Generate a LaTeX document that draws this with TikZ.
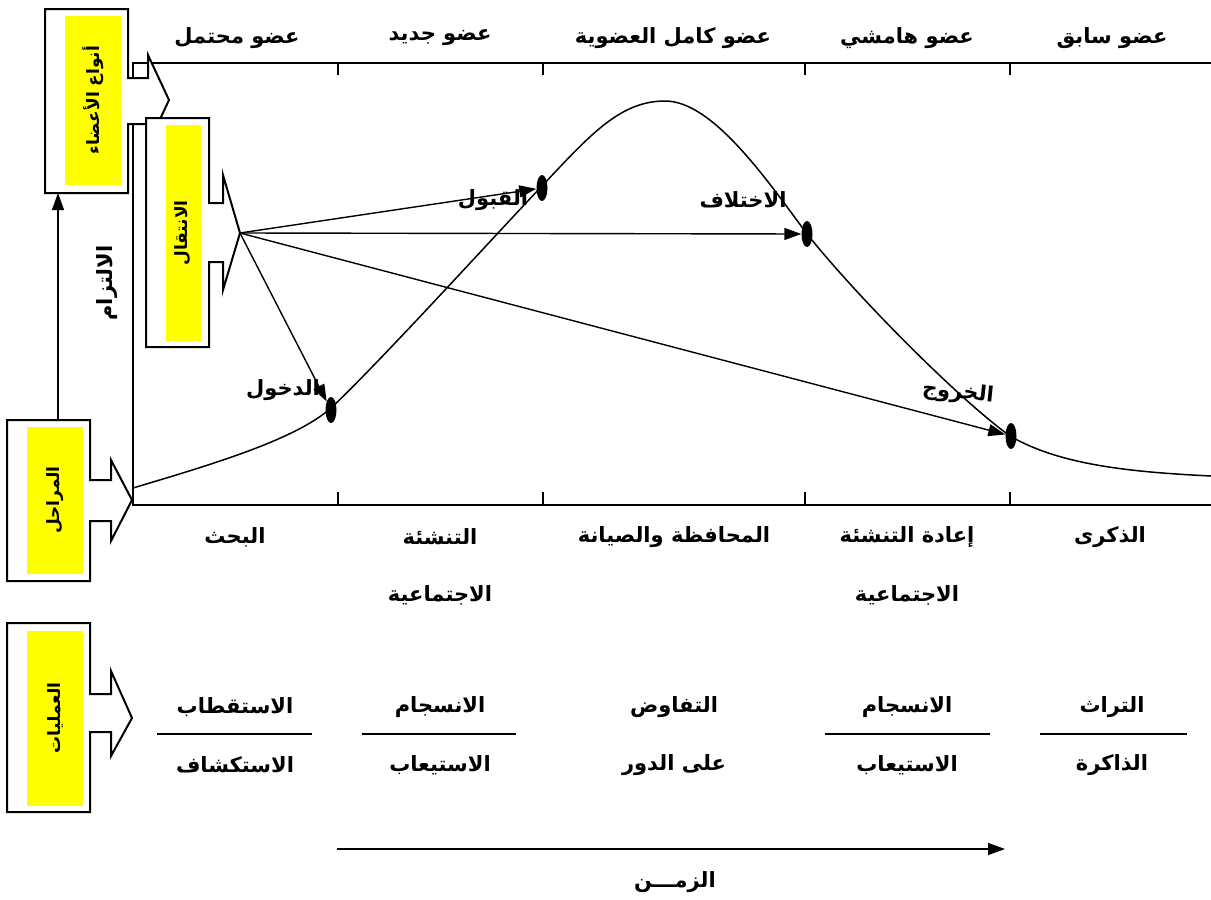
\documentclass[tikz,border=0pt]{standalone}
\usepackage{fontspec}
\newfontfamily\arabicfont[Script=Arabic]{DejaVu Sans}
\TeXXeTstate=1
\usetikzlibrary{arrows.meta,shapes.geometric}
\definecolor{pureyellow}{RGB}{255,255,0}
\tikzset{
  lbl/.style={font=\arabicfont\bfseries\fontsize{21}{24}\selectfont, inner sep=0pt},
  boxlbl/.style={font=\arabicfont\bfseries\fontsize{17}{20}\selectfont, inner sep=0pt, rotate=90},
  frame/.style={line width=1.5pt},
  boxshape/.style={draw=black, fill=white, line width=2pt, line join=miter},
  yel/.style={fill=pureyellow, draw=none},
  arr/.style={line width=1.4pt, -{Triangle[length=17pt,width=12pt]}},
  curveline/.style={line width=1.5pt},
  dot/.style={ellipse, fill=black, draw=none, minimum width=11pt, minimum height=26pt, inner sep=0pt},
  sep/.style={line width=1.5pt}
}
\begin{document}
\begin{tikzpicture}[x=1pt,y=-1pt]
\useasboundingbox (0,0) rectangle (1211,900);
% main frame
\draw[frame] (1211,63) -- (133,63) -- (133,505) -- (1211,505);
\foreach \xx in {338,543,805,1010}{
  \draw[frame] (\xx,63) -- (\xx,75);
  \draw[frame] (\xx,492) -- (\xx,505);
}
% curve
\draw[curveline] (133,488) .. controls (210,465) and (295,440) .. (331,408)
  .. controls (380,362) and (500,230) .. (542,186)
  .. controls (590,135) and (620,101) .. (665,101)
  .. controls (712,101) and (765,177) .. (807,234)
  .. controls (860,300) and (960,400) .. (1010,436)
  .. controls (1060,465) and (1130,472) .. (1211,476);
% box 1: member types
\draw[boxshape] (45,9) -- (128,9) -- (128,78) -- (148,78) -- (148,55) -- (169,100) -- (148,145) -- (148,124) -- (128,124) -- (128,193) -- (45,193) -- cycle;
\fill[yel] (65,16) rectangle (121,185);
\node[boxlbl] (t1) at (93,100) {\beginR أنواع الأعضاء\endR};
\coordinate (b1bot) at (58,193);
% box 2: transition
\draw[boxshape] (146,118) -- (209,118) -- (209,203) -- (223,203) -- (223,175) -- (240,233) -- (223,290) -- (223,262) -- (209,262) -- (209,347) -- (146,347) -- cycle;
\fill[yel] (166,125) rectangle (201,341);
\node[boxlbl] (t2) at (183,233) {\beginR الانتقال\endR};
\coordinate (tip2) at (240,233);
% box 3: stages
\draw[boxshape] (7,420) -- (90,420) -- (90,480) -- (111,480) -- (111,460) -- (132,500) -- (111,541) -- (111,521) -- (90,521) -- (90,581) -- (7,581) -- cycle;
\fill[yel] (27,427) rectangle (83,574);
\node[boxlbl] (t3) at (55,500) {\beginR المراحل\endR};
\coordinate (b3top) at (58,420);
% box 4: processes
\draw[boxshape] (7,623) -- (90,623) -- (90,694) -- (111,694) -- (111,671) -- (132,718) -- (111,756) -- (111,732) -- (90,732) -- (90,812) -- (7,812) -- cycle;
\fill[yel] (27,631) rectangle (83,806);
\node[boxlbl] (t4) at (55,718) {\beginR العمليات\endR};
% vertical arrow
\draw[arr] (b3top) -- (b1bot);
\node[lbl, rotate=90] (commit) at (107,283) {\beginR الالتزام\endR};
% dots
\node[dot] (d1) at (331,410) {};
\node[dot] (d2) at (542,188) {};
\node[dot] (d3) at (807,234) {};
\node[dot] (d4) at (1011,436) {};
% arrows from transition
\draw[arr] (tip2) -- (d1);
\draw[arr] (tip2) -- (d2);
\draw[arr] (tip2) -- (d3);
\draw[arr] (tip2) -- (d4);
% event labels
\node[lbl] (e1) at (283,390) {\beginR الدخول\endR};
\node[lbl] (e2) at (493,200) {\beginR القبول\endR};
\node[lbl] (e3) at (743,200) {\beginR الاختلاف\endR};
\node[lbl, rotate=-6] (e4) at (958,393) {\beginR الخروج\endR};
% top labels
\node[lbl] (m1) at (237,38) {\beginR عضو محتمل\endR};
\node[lbl] (m2) at (440,38) {\beginR عضو جديد\endR};
\node[lbl] (m3) at (673,38) {\beginR عضو كامل العضوية\endR};
\node[lbl] (m4) at (907,38) {\beginR عضو هامشي\endR};
\node[lbl] (m5) at (1112,38) {\beginR عضو سابق\endR};
% stage labels
\node[lbl] (s1) at (235,537) {\beginR البحث\endR};
\node[lbl] (s2a) at (440,537) {\beginR التنشئة\endR};
\node[lbl] (s2b) at (440,595) {\beginR الاجتماعية\endR};
\node[lbl] (s3) at (674,537) {\beginR المحافظة والصيانة\endR};
\node[lbl] (s4a) at (907,537) {\beginR إعادة التنشئة\endR};
\node[lbl] (s4b) at (907,595) {\beginR الاجتماعية\endR};
\node[lbl] (s5) at (1110,537) {\beginR الذكرى\endR};
% process labels
\node[lbl] (p1a) at (235,707) {\beginR الاستقطاب\endR};
\node[lbl] (p1b) at (235,765) {\beginR الاستكشاف\endR};
\draw[sep] (157,734) -- (312,734);
\node[lbl] (p2a) at (440,707) {\beginR الانسجام\endR};
\node[lbl] (p2b) at (440,765) {\beginR الاستيعاب\endR};
\draw[sep] (362,734) -- (516,734);
\node[lbl] (p3a) at (674,707) {\beginR التفاوض\endR};
\node[lbl] (p3b) at (674,765) {\beginR على الدور\endR};
\node[lbl] (p4a) at (907,707) {\beginR الانسجام\endR};
\node[lbl] (p4b) at (907,765) {\beginR الاستيعاب\endR};
\draw[sep] (825,734) -- (990,734);
\node[lbl] (p5a) at (1112,707) {\beginR التراث\endR};
\node[lbl] (p5b) at (1112,765) {\beginR الذاكرة\endR};
\draw[sep] (1040,734) -- (1187,734);
% time arrow
\coordinate (ts) at (337,849);
\coordinate (te) at (1005,849);
\draw[arr] (ts) -- (te);
\node[lbl] (time) at (675,882) {\beginR الزمـــن\endR};
\end{tikzpicture}
\end{document}
